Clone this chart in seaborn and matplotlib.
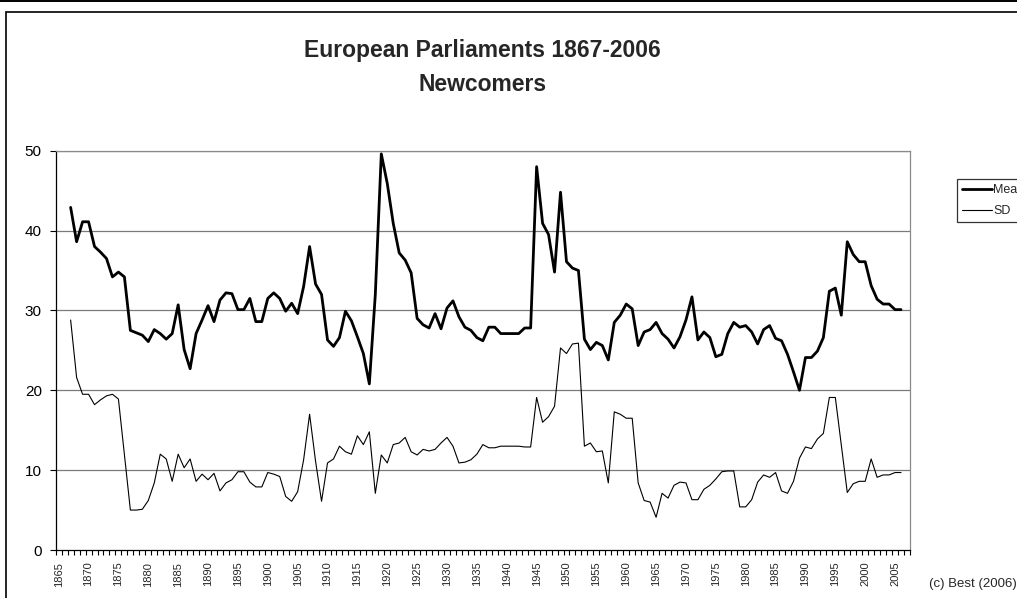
import matplotlib
matplotlib.use("Agg")
import matplotlib.pyplot as plt
import seaborn as sns
import pandas as pd
import numpy as np
from matplotlib.lines import Line2D
from matplotlib.patches import Rectangle

years = list(range(1867, 2007))

mean_vals = [
    42.9, 38.6, 41.1, 41.1, 38.0, 37.3, 36.5, 34.2, 34.8, 34.2,   # 1867-1876
    27.5, 27.2, 26.9, 26.1, 27.6, 27.1, 26.4, 27.1, 30.7, 25.1,   # 1877-1886
    22.7, 27.1, 28.8, 30.6, 28.6, 31.3, 32.2, 32.1, 30.1, 30.1,   # 1887-1896
    31.5, 28.6, 28.6, 31.5, 32.2, 31.5, 29.9, 30.9, 29.6, 33.0,   # 1897-1906
    38.0, 33.3, 32.0, 26.3, 25.5, 26.6, 29.9, 28.7, 26.7, 24.6,   # 1907-1916
    20.8, 32.0, 49.6, 45.9, 40.9, 37.2, 36.3, 34.7, 29.0, 28.2,   # 1917-1926
    27.8, 29.6, 27.7, 30.3, 31.2, 29.2, 27.9, 27.5, 26.6, 26.2,   # 1927-1936
    27.9, 27.9, 27.1, 27.1, 27.1, 27.1, 27.8, 27.8, 48.0, 40.9,   # 1937-1946
    39.5, 34.8, 44.8, 36.1, 35.3, 35.0, 26.4, 25.1, 26.0, 25.6,   # 1947-1956
    23.8, 28.5, 29.4, 30.8, 30.2, 25.6, 27.3, 27.6, 28.5, 27.1,   # 1957-1966
    26.4, 25.3, 26.7, 28.8, 31.7, 26.3, 27.3, 26.6, 24.2, 24.5,   # 1967-1976
    27.1, 28.5, 27.9, 28.1, 27.3, 25.8, 27.6, 28.1, 26.5, 26.2,   # 1977-1986
    24.5, 22.3, 20.0, 24.1, 24.1, 24.9, 26.6, 32.4, 32.8, 29.4,   # 1987-1996
    38.6, 37.0, 36.1, 36.1, 33.1, 31.4, 30.8, 30.8, 30.1, 30.1,   # 1997-2006
]

sd_vals = [
    28.8, 21.6, 19.5, 19.5, 18.2, 18.8, 19.3, 19.5, 18.9, 11.9,   # 1867-1876
    5.0, 5.0, 5.1, 6.2, 8.4, 12.0, 11.4, 8.6, 12.0, 10.3,         # 1877-1886
    11.4, 8.6, 9.5, 8.8, 9.6, 7.4, 8.4, 8.8, 9.8, 9.8,            # 1887-1896
    8.5, 7.9, 7.9, 9.7, 9.5, 9.2, 6.7, 6.1, 7.3, 11.3,            # 1897-1906
    17.0, 11.1, 6.1, 10.9, 11.4, 13.0, 12.3, 12.0, 14.3, 13.2,    # 1907-1916
    14.8, 7.1, 11.9, 10.9, 13.2, 13.4, 14.1, 12.3, 11.9, 12.6,    # 1917-1926
    12.4, 12.6, 13.4, 14.1, 13.0, 10.9, 11.0, 11.3, 12.0, 13.2,   # 1927-1936
    12.8, 12.8, 13.0, 13.0, 13.0, 13.0, 12.9, 12.9, 19.1, 16.0,   # 1937-1946
    16.7, 18.0, 25.3, 24.6, 25.8, 25.9, 13.0, 13.4, 12.3, 12.4,   # 1947-1956
    8.4, 17.3, 17.0, 16.5, 16.5, 8.4, 6.2, 6.0, 4.1, 7.1,         # 1957-1966
    6.5, 8.1, 8.5, 8.4, 6.3, 6.3, 7.6, 8.1, 8.9, 9.8,             # 1967-1976
    9.9, 9.9, 5.4, 5.4, 6.3, 8.5, 9.4, 9.1, 9.7, 7.4,             # 1977-1986
    7.1, 8.6, 11.5, 12.9, 12.7, 13.9, 14.6, 19.1, 19.1, 13.2,     # 1987-1996
    7.2, 8.3, 8.6, 8.6, 11.4, 9.1, 9.4, 9.4, 9.7, 9.7,            # 1997-2006
]

series_names = ["Mean", "SD"]
title_lines = ["European Parliaments 1867-2006", "Newcomers"]
credit = "(c) Best (2006)"
y_ticks = [0, 10, 20, 30, 40, 50]
x_label_years = list(range(1865, 2006, 5))

df = pd.DataFrame({"Year": years, "Mean": mean_vals, "SD": sd_vals})

sns.set_style("white")
plt.rcParams["font.family"] = ["Liberation Sans", "DejaVu Sans"]

W, H = 1017, 598
fig = plt.figure(figsize=(W / 100, H / 100), dpi=100)
fig.patch.set_facecolor("white")

L, R, T, B = 55.7, 910.0, 150.7, 550.0
ax = fig.add_axes([L / W, 1 - B / H, (R - L) / W, (B - T) / H])
ax.set_facecolor("white")

# gridlines
for v in y_ticks[1:]:
    ax.axhline(v, color="#7a7a7a", lw=0.9, zorder=1)

sns.lineplot(data=df, x="Year", y="Mean", ax=ax, color="black", lw=2.0,
             label="Mean", legend=False, zorder=3)
sns.lineplot(data=df, x="Year", y="SD", ax=ax, color="black", lw=0.8,
             label="SD", legend=False, zorder=3)

ax.set_xlim(1864.5, 2007.5)
ax.set_ylim(0, 50)
ax.set_xlabel("")
ax.set_ylabel("")

ax.set_yticks(y_ticks)
ax.set_yticklabels([str(v) for v in y_ticks], fontsize=11)
ax.tick_params(axis="y", direction="out", length=4, width=0.8, pad=6,
               colors="black", left=True)

ax.set_xticks(x_label_years)
ax.set_xticklabels([str(v) for v in x_label_years], rotation=90,
                   fontsize=8, va="top", ha="center")
ax.set_xticks(np.arange(1864.5, 2008, 1.0), minor=True)
ax.tick_params(axis="x", which="major", length=0, pad=8.4)
ax.tick_params(axis="x", which="minor", direction="out", length=3.5,
               width=0.8, color="black", bottom=True)

for side in ["top", "right"]:
    ax.spines[side].set_color("#8a8a8a")
    ax.spines[side].set_linewidth(0.9)
for side in ["left", "bottom"]:
    ax.spines[side].set_color("black")
    ax.spines[side].set_linewidth(0.9)

# Title
cx = (L + R) / 2 / W
fig.text(cx, 1 - 57 / H, title_lines[0], ha="center", va="baseline",
         fontsize=16.5, fontweight="bold")
fig.text(cx, 1 - 91 / H, title_lines[1], ha="center", va="baseline",
         fontsize=16.5, fontweight="bold")

# Legend
handles = [Line2D([], [], color="black", lw=2.0), Line2D([], [], color="black", lw=0.8)]
leg = fig.legend(handles, series_names, loc="upper left",
                 bbox_to_anchor=(956.7 / W, 1 - 179.3 / H),
                 fontsize=9, frameon=True, fancybox=False, edgecolor="black",
                 handlelength=2.4, handletextpad=0.1, borderpad=0.4,
                 labelspacing=0.7, borderaxespad=0)
leg.get_frame().set_linewidth(0.9)

# Credit
fig.text(929.3 / W, 1 - 586.7 / H, credit, ha="left", va="baseline", fontsize=9.5)

# Outer frame lines
fig.add_artist(Line2D([0, 1], [1 - 0.8 / H, 1 - 0.8 / H], transform=fig.transFigure,
                      color="black", lw=1.4))
fig.add_artist(Rectangle((5.7 / W, -0.05), 1.2, 1 - 11.7 / H + 0.05,
                         transform=fig.transFigure, fill=False,
                         edgecolor="black", lw=1.2))

fig.savefig("out.png", dpi=100, facecolor="white")
